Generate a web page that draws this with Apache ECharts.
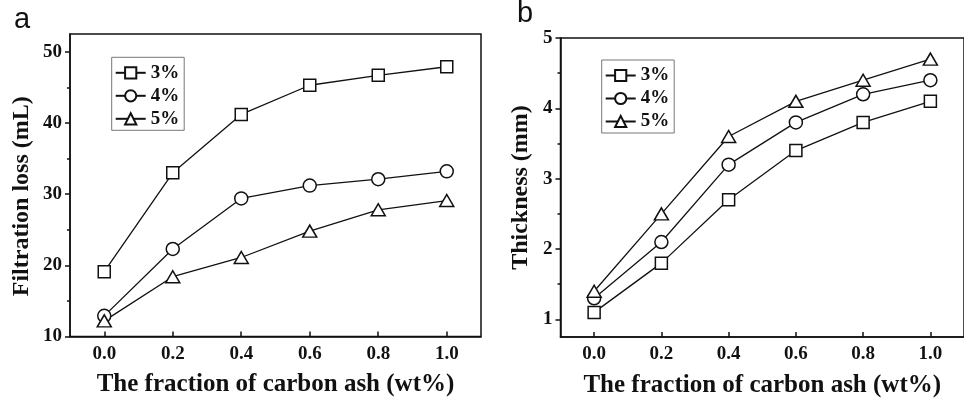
<!DOCTYPE html>
<html>
<head>
<meta charset="utf-8">
<script src="https://cdn.jsdelivr.net/npm/echarts@6/dist/echarts.min.js"></script>
<style>
html,body{margin:0;padding:0;background:#fff;}
#chart{width:964px;height:403px;}
</style>
</head>
<body>
<div id="chart"></div>
<script>
const xValues = [0, 0.2, 0.4, 0.6, 0.8, 1.0];
const seriesNames = ['3%', '4%', '5%'];
const filt3 = [19.1, 33.0, 41.2, 45.3, 46.7, 47.9];
const filt4 = [12.9, 22.3, 29.4, 31.2, 32.1, 33.2];
const filt5 = [12.2, 18.4, 21.1, 24.8, 27.8, 29.1];
const thick3 = [1.1, 1.8, 2.7, 3.4, 3.8, 4.1];
const thick4 = [1.3, 2.1, 3.2, 3.8, 4.2, 4.4];
const thick5 = [1.4, 2.5, 3.6, 4.1, 4.4, 4.7];
const xTicks = [0, 0.2, 0.4, 0.6, 0.8, 1.0];
const yTicksA = [10, 20, 30, 40, 50];
const yMinorA = [15, 25, 35, 45];
const yTicksB = [1, 2, 3, 4, 5];
const yMinorB = [1.5, 2.5, 3.5, 4.5];

const serif = 'Liberation Serif';
const black = '#111';
const symbols = ['rect', 'circle', 'triangle'];
const symbolSizes = [12, 13, [14, 12]];

function pairs(ys) { return xValues.map((x, i) => [x, ys[i]]); }

function xAxisFor(gi) {
  return {
    type: 'value', gridIndex: gi, min: -0.1, max: 1.1,
    name: 'The fraction of carbon ash (wt%)',
    nameLocation: 'middle', nameGap: 36,
    nameTextStyle: { fontFamily: serif, fontWeight: 'bold', fontSize: 25, color: black },
    axisLine: { show: true, onZero: false, lineStyle: { color: black, width: 1.5 } },
    axisTick: { show: true, inside: true, length: 5, customValues: xTicks, lineStyle: { color: black, width: 1.5 } },
    axisLabel: { customValues: xTicks, margin: 8, fontFamily: serif, fontWeight: 'bold', fontSize: 19, color: black,
      formatter: v => Number(v).toFixed(1) },
    splitLine: { show: false }
  };
}

function yAxisFor(gi, min, max, ticks, name, gap, pad) {
  return {
    type: 'value', gridIndex: gi, min: min, max: max, position: 'left',
    name: name, nameLocation: 'middle', nameGap: gap, nameRotate: 90,
    nameTextStyle: { fontFamily: serif, fontWeight: 'bold', fontSize: 24, color: black, padding: pad },
    axisLine: { show: true, onZero: false, lineStyle: { color: black, width: 1.5 } },
    axisTick: { show: true, inside: false, length: 5, customValues: ticks, lineStyle: { color: black, width: 1.5 } },
    axisLabel: { customValues: ticks, margin: 8, fontFamily: serif, fontWeight: 'bold', fontSize: 19, color: black },
    splitLine: { show: false }
  };
}

function minorAxis(gi, min, max, ticks) {
  return {
    type: 'value', gridIndex: gi, min: min, max: max, position: 'left',
    axisLine: { show: false, onZero: false },
    axisTick: { show: true, inside: false, length: 3, customValues: ticks, lineStyle: { color: black, width: 1.5 } },
    axisLabel: { show: false },
    splitLine: { show: false }
  };
}

function legendFor(left, top) {
  return {
    left: left, top: top, orient: 'vertical',
    data: seriesNames,
    itemWidth: 30, itemHeight: 14, itemGap: 4,
    padding: [6, 5, 2, 3],
    borderColor: '#777', borderWidth: 1,
    selectedMode: false,
    textStyle: { fontFamily: serif, fontWeight: 'bold', fontSize: 19, lineHeight: 19, color: black }
  };
}

function lineSeries(name, data, idx, gi) {
  return {
    type: 'line', name: name,
    xAxisIndex: gi, yAxisIndex: gi === 0 ? 0 : 1,
    data: pairs(data),
    symbol: symbols[idx], symbolSize: symbolSizes[idx],
    showAllSymbol: true,
    lineStyle: { color: black, width: 1.3 },
    itemStyle: { color: '#fff', borderColor: black, borderWidth: 1.5 },
    emphasis: { disabled: true },
    animation: false
  };
}

const chart = echarts.init(document.getElementById('chart'), null, { renderer: 'canvas' });
chart.setOption({
  backgroundColor: '#fff',
  animation: false,
  title: [
    { text: 'a', left: 9, top: 0, textStyle: { fontFamily: 'Liberation Sans', fontWeight: 'normal', fontSize: 29, color: black } },
    { text: 'b', left: 512, top: -6, textStyle: { fontFamily: 'Liberation Sans', fontWeight: 'normal', fontSize: 29, color: black } }
  ],
  grid: [
    { left: 70, right: 483, top: 34, bottom: 66.5, show: true, borderColor: black, borderWidth: 1.5, backgroundColor: 'transparent' },
    { left: 560.5, right: -4, top: 38, bottom: 65.3, show: true, borderColor: black, borderWidth: 1.5, backgroundColor: 'transparent' }
  ],
  legend: [legendFor(111.7, 57.3), legendFor(601.7, 60)],
  xAxis: [xAxisFor(0), xAxisFor(1)],
  yAxis: [
    yAxisFor(0, 10, 52.5, yTicksA, 'Filtration loss (mL)', 36, [0, 22, 0, 0]),
    yAxisFor(1, 0.75, 5, yTicksB, 'Thickness (mm)', 28, 0),
    minorAxis(0, 10, 52.5, yMinorA),
    minorAxis(1, 0.75, 5, yMinorB)
  ],
  series: [
    lineSeries('3%', filt3, 0, 0),
    lineSeries('4%', filt4, 1, 0),
    lineSeries('5%', filt5, 2, 0),
    lineSeries('3%', thick3, 0, 1),
    lineSeries('4%', thick4, 1, 1),
    lineSeries('5%', thick5, 2, 1)
  ]
});
</script>
</body>
</html>
